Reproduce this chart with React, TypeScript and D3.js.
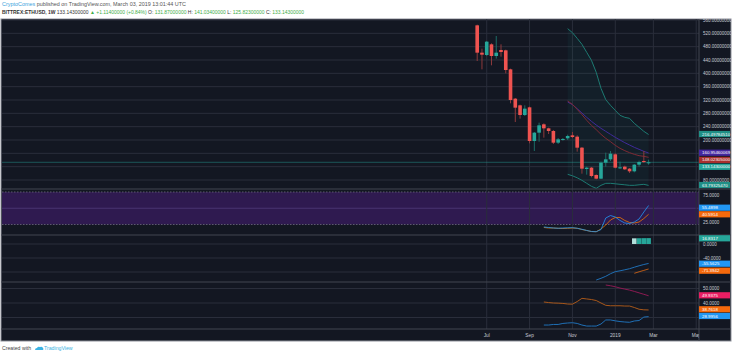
import React from 'react';
import * as d3 from 'd3';

// ---------- DATA ----------
const weekDates = [
  '2018-06-18','2018-06-25','2018-07-02','2018-07-09','2018-07-16','2018-07-23','2018-07-30',
  '2018-08-06','2018-08-13','2018-08-20','2018-08-27','2018-09-03','2018-09-10','2018-09-17',
  '2018-09-24','2018-10-01','2018-10-08','2018-10-15','2018-10-22','2018-10-29','2018-11-05',
  '2018-11-12','2018-11-19','2018-11-26','2018-12-03','2018-12-10','2018-12-17','2018-12-24',
  '2018-12-31','2019-01-07','2019-01-14','2019-01-21','2019-01-28','2019-02-04','2019-02-11',
  '2019-02-18','2019-02-25'
];
const openP = [544,462,455,487,452,470,469,412,324,304,275,298,197,222,247,235,227,192,201,205,214,210,177,113,117,95,84,132,142,157,117,120,114,106,126,137,131.87];
const highP = [546,474,497,490,512,487,471,414,326,306,304,300,224,252,250,237,230,206,206,216,224,214,179,120,119,97,135,162,167,160,135,123,116,128,138,167,141.034];
const lowP  = [437,412,452,424,444,450,400,310,254,264,272,190,167,195,207,218,188,188,198,200,206,165,99,96,88,82,83,120,137,115,113,110,101,103,120,131,125.823];
const closeP= [462,456,495,452,462,464,410,320,297,275,294,197,222,244,235,227,192,202,203,212,209,177,114,117,92,84,132,142,159,117,118,112,106,126,134,134,133.143];

const bandStart = 19;
const bbUpper = [534,522,505,487,463,439,403,355,321,304,289,274,268,265,250,238,226,216.5];
const bbLower = [97,92.6,86.6,79,70,61,55,64,70,70,68.6,67,65.6,64,64,65.6,67,63.8];
const maRed = [317,307,292,276,259,244,231,217,205,195,184,175,168,162,157,153,151,148];
const maPurple = [314,306,294,281,268,256,245,235,226,217,208,200,192,185,178,172,166,161];

const rsiStart = 14;
const rsiBlue = [21.2,20.4,19.6,19.2,19.6,19.9,20.1,19.2,17.6,15.8,14.2,13.9,17.3,35,38.8,36.5,31.2,27.3,26.5,28.8,33.5,44.2,54.2];
const rsiOrange = [20.4,19.6,19.6,19.2,18.8,19.2,19.6,19.2,17.3,15.8,14.2,13.9,18.1,24.2,31.9,35.8,35.8,31.2,28.1,27.3,28.8,34.2,40.7];

const macdStart = 25;
const macdLine = [-102.9,-98,-92.3,-84.9,-79,-76.6,-73.7,-70.6,-66.3,-62.3,-58.6,-55.56];
const signalStart = 33;
const signalLine = [-83.7,-79.4,-75.4,-71.39];
const histVals = [16.2,16.5,16.7,16.83];

const dmiStart = 14;
const dmiOrange = [40.7,40.3,40.0,39.9,39.7,39.3,39.2,41.0,43.2,42.8,42.4,41.7,40.0,38.4,38.1,38.1,38.1,37.9,37.9,36.9,35.7,35.3,35.2];
const dmiBlue = [24.8,24.8,25.2,25.2,25.9,26.2,26.4,25.9,24.8,24.1,24.1,24.1,25.5,28.3,28.3,27.7,27.2,26.9,26.7,27.6,27.9,30.3,30.6];
const adxStart = 27;
const adxPink = [52.4,51.9,51.2,50.3,49.6,48.9,48.0,47.0,46.0,45.0];

const priceTicks = [560,520,480,440,400,360,320,280,240,200,160,120,80];
const priceTickShown = [560,520,480,440,400,360,320,280,240,200,80];
const rsiTicks = [75,25];
const macdTicks = [0,-40,-80];
const macdTickShown = [0,-40];
const dmiTicks = [50,40,30];
const dmiTickShown = [50,40];
const timeTickDates = ['2018-07-02','2018-09-03','2018-11-05','2019-01-07','2019-03-04','2019-05-06'];
const timeTickLabels = ['Jul','Sep','Nov','2019','Mar','May'];

const mainBadges = [
  { text: '216.49784510', y: 134, fill: '#1f8f86' },
  { text: '160.95460069', y: 152.7, fill: '#4527a0' },
  { text: '148.02305000', y: 159.9, fill: '#a8302f' },
  { text: '133.14300000', y: 166.8, fill: '#26a69a' },
  { text: '63.79325470', y: 185, fill: '#1f8f86' },
];
const rsiBadges = [
  { text: '55.4898', y: 207.7, fill: '#2196f3' },
  { text: '40.5914', y: 214.3, fill: '#f5690c' },
];
const macdBadges = [
  { text: '16.8317', y: 238.3, fill: '#26a69a' },
  { text: '-55.5625', y: 263.7, fill: '#2196f3' },
  { text: '-71.3942', y: 270.7, fill: '#f5690c' },
];
const dmiBadges = [
  { text: '49.9375', y: 295.3, fill: '#e91e63' },
  { text: '38.7618', y: 309.3, fill: '#f5690c' },
  { text: '28.9956', y: 316, fill: '#2196f3' },
];

// ---------- LAYOUT ----------
const W = 736, H = 355;
const L = 2, R = 699, AXR = 731;
const main = { top: 19, bottom: 189 };
const rsiP = { top: 189, bottom: 235 };
const macdP = { top: 235, bottom: 282 };
const dmiP = { top: 282, bottom: 329 };
const timeAxisBottom = 341;

const BG = '#131722';
const GRID = '#2a2e3b';
const SEP = '#434651';
const AXTXT = '#c8cbd3';
const FONT = '"Liberation Sans", Arial, sans-serif';
const UP = '#26a69a', DOWN = '#ef5350';
const UPW = '#1c6d66', DOWNW = '#8e3a3c';

const parse = d3.utcParse('%Y-%m-%d');
const dates = weekDates.map(d => parse(d) as Date);
const x = d3.scaleUtc().domain([dates[0], dates[dates.length - 1]]).range([477.2, 648.6]);
const yMain = d3.scaleLinear().domain([80, 560]).range([180, 20]);
const yRsi = d3.scaleLinear().domain([25, 75]).range([224.5, 192]);
const yMacd = d3.scaleLinear().domain([-80, 0]).range([272, 244]);
const yDmi = d3.scaleLinear().domain([30, 50]).range([317.5, 288.5]);

function seriesPath(vals: number[], start: number, y: d3.ScaleLinear<number, number>) {
  return d3.line<number>().x((_, i) => x(dates[start + i])).y(d => y(d))(vals) || '';
}

function Badge({ text, y, fill }: { text: string; y: number; fill: string }) {
  return (
    <g>
      <rect x={R} y={y - 3.1} width={AXR - R - 1} height={6.2} fill={fill} />
      <text x={R + 3} y={y} dy="0.35em" fontSize={4.4} fill="#ffffff" fontFamily={FONT}>{text}</text>
    </g>
  );
}

function AxisLabel({ y, text }: { y: number; text: string }) {
  return <text x={R + 4} y={y} dy="0.35em" fontSize={4.5} fill={AXTXT} fontFamily={FONT}>{text}</text>;
}

export default function App() {
  const bandArea = d3.area<number>()
    .x((_, i) => x(dates[bandStart + i]))
    .y0((_, i) => yMain(bbLower[i]))
    .y1(d => yMain(d))(bbUpper) || '';
  const vTicks = timeTickDates.map(d => x(parse(d) as Date));
  const bw = 3.6;

  const panes = [main, rsiP, macdP, dmiP];

  return (
    <svg width={W} height={H} style={{ position: 'absolute', left: 0, top: 0, background: '#ffffff' }}>
      <defs>
        <clipPath id="cMain"><rect x={L} y={main.top} width={R - L} height={main.bottom - main.top} /></clipPath>
        <clipPath id="cRsi"><rect x={L} y={rsiP.top} width={R - L} height={rsiP.bottom - rsiP.top} /></clipPath>
        <clipPath id="cMacd"><rect x={L} y={macdP.top} width={R - L} height={macdP.bottom - macdP.top} /></clipPath>
        <clipPath id="cDmi"><rect x={L} y={dmiP.top} width={R - L} height={dmiP.bottom - dmiP.top} /></clipPath>
        <clipPath id="cTime"><rect x={L} y={dmiP.bottom} width={R - L} height={timeAxisBottom - dmiP.bottom} /></clipPath>
        <clipPath id="cAxisMain"><rect x={R} y={main.top} width={AXR - R} height={main.bottom - main.top} /></clipPath>
      </defs>

      {/* Header */}
      <text x={2} y={5.6} fontSize={5} fontFamily={FONT} fill="#555" textLength={184} lengthAdjust="spacingAndGlyphs">
        <tspan fill="#3a9fdc">CryptoComes</tspan>
        <tspan> published on TradingView.com, March 03, 2019 13:01:44 UTC</tspan>
      </text>
      <text x={2} y={13.8} fontSize={5} fontFamily={FONT} fill="#333" textLength={302} lengthAdjust="spacingAndGlyphs">
        <tspan fontWeight="bold">BITTREX:ETHUSD, 1W</tspan>
        <tspan> 133.14300000 </tspan>
        <tspan fill="#3fae49">▲ +1.11400000 (+0.84%)</tspan>
        <tspan> O: </tspan><tspan fill="#3fae49">131.87000000</tspan>
        <tspan> H: </tspan><tspan fill="#3fae49">141.03400000</tspan>
        <tspan> L: </tspan><tspan fill="#3fae49">125.82300000</tspan>
        <tspan> C: </tspan><tspan fill="#3fae49">133.14300000</tspan>
      </text>

      {/* Chart background */}
      <rect x={1} y={main.top} width={AXR - 1} height={timeAxisBottom - main.top} fill={BG} stroke="#8d9099" strokeWidth={1} />

      {/* Grid: horizontal */}
      {priceTicks.map(t => <line key={'pg' + t} x1={L} x2={R} y1={yMain(t)} y2={yMain(t)} stroke={GRID} strokeWidth={1} />)}
      {macdTicks.map(t => <line key={'mg' + t} x1={L} x2={R} y1={yMacd(t)} y2={yMacd(t)} stroke={GRID} strokeWidth={1} />)}
      {dmiTicks.map(t => <line key={'dg' + t} x1={L} x2={R} y1={yDmi(t)} y2={yDmi(t)} stroke={GRID} strokeWidth={1} />)}

      {/* RSI band */}
      <rect x={L} y={yRsi(75)} width={R - L} height={yRsi(25) - yRsi(75)} fill="#2f1a50" />
      <line x1={L} x2={R} y1={yRsi(50)} y2={yRsi(50)} stroke="#4a3470" strokeWidth={1} />
      {rsiTicks.map(t => <line key={'rg' + t} x1={L} x2={R} y1={yRsi(t)} y2={yRsi(t)} stroke="#5d5a6e" strokeWidth={1} strokeDasharray="1.5,1.5" />)}

      {/* Grid: vertical */}
      {panes.map((p, pi) => vTicks.map((vx, i) => (
        <line key={'vg' + pi + '-' + i} x1={vx} x2={vx} y1={p.top} y2={p.bottom} stroke={GRID} strokeWidth={1} />
      )))}

      {/* Main pane */}
      <g clipPath="url(#cMain)">
        <path d={bandArea} fill="#26a69a" fillOpacity={0.06} />
        <path d={seriesPath(bbUpper, bandStart, yMain)} fill="none" stroke="#1d7a72" strokeWidth={1} />
        <path d={seriesPath(bbLower, bandStart, yMain)} fill="none" stroke="#1d7a72" strokeWidth={1} />
        <path d={seriesPath(maPurple, bandStart, yMain)} fill="none" stroke="#3f2a9a" strokeWidth={1} />
        <path d={seriesPath(maRed, bandStart, yMain)} fill="none" stroke="#7e2a34" strokeWidth={1} />
        <line x1={L} x2={R} y1={yMain(closeP[closeP.length - 1])} y2={yMain(closeP[closeP.length - 1])} stroke="#26a69a" strokeOpacity={0.45} strokeWidth={1} />
        {dates.map((d, i) => {
          const cx = x(d);
          const up = closeP[i] >= openP[i];
          const top = yMain(Math.max(openP[i], closeP[i]));
          const bot = yMain(Math.min(openP[i], closeP[i]));
          return (
            <g key={'c' + i}>
              <line x1={cx} x2={cx} y1={yMain(highP[i])} y2={yMain(lowP[i])} stroke={up ? UPW : DOWNW} strokeWidth={1} />
              <rect x={cx - bw / 2} y={top} width={bw} height={Math.max(1, bot - top)} fill={up ? UP : DOWN} />
            </g>
          );
        })}
      </g>

      {/* RSI pane */}
      <g clipPath="url(#cRsi)">
        <path d={seriesPath(rsiOrange, rsiStart, yRsi)} fill="none" stroke="#f57c00" strokeOpacity={0.85} strokeWidth={0.9} />
        <path d={seriesPath(rsiBlue, rsiStart, yRsi)} fill="none" stroke="#2196f3" strokeOpacity={0.9} strokeWidth={0.9} />
      </g>

      {/* MACD pane */}
      <g clipPath="url(#cMacd)">
        {histVals.map((v, i) => {
          const cx = x(dates[signalStart + i]);
          return <rect key={'h' + i} x={cx - 2.3} y={yMacd(v)} width={4.6} height={yMacd(0) - yMacd(v)} fill={i === 0 ? '#b2dfdb' : '#26a69a'} />;
        })}
        <path d={seriesPath(macdLine, macdStart, yMacd)} fill="none" stroke="#1f6fb5" strokeWidth={1} />
        <path d={seriesPath(signalLine, signalStart, yMacd)} fill="none" stroke="#b85a17" strokeWidth={1} />
      </g>

      {/* DMI pane */}
      <g clipPath="url(#cDmi)">
        <path d={seriesPath(adxPink, adxStart, yDmi)} fill="none" stroke="#8c1a52" strokeWidth={1} />
        <path d={seriesPath(dmiOrange, dmiStart, yDmi)} fill="none" stroke="#a8571a" strokeWidth={1} />
        <path d={seriesPath(dmiBlue, dmiStart, yDmi)} fill="none" stroke="#1f6fb5" strokeWidth={1} />
      </g>

      {/* Pane separators */}
      {[rsiP.top, macdP.top, dmiP.top, dmiP.bottom].map((yy, i) => (
        <line key={'sep' + i} x1={L - 1} x2={AXR} y1={yy} y2={yy} stroke={SEP} strokeWidth={1} />
      ))}
      <line x1={R} x2={R} y1={main.top} y2={timeAxisBottom} stroke={SEP} strokeWidth={1} />

      {/* Time axis */}
      <g clipPath="url(#cTime)">
        {timeTickDates.map((d, i) => (
          <text key={'tt' + i} x={x(parse(d) as Date)} y={335.5} dy="0.35em" textAnchor="middle" fontSize={4.8} fill={AXTXT} fontFamily={FONT}>{timeTickLabels[i]}</text>
        ))}
      </g>

      {/* Price axis labels */}
      <g clipPath="url(#cAxisMain)">
        {priceTickShown.map(t => <AxisLabel key={'pl' + t} y={yMain(t)} text={t.toFixed(8)} />)}
      </g>
      <AxisLabel y={195.3} text="75.0000" />
      <AxisLabel y={222.3} text="25.0000" />
      {macdTickShown.map(t => <AxisLabel key={'ml' + t} y={yMacd(t) + 0.3} text={t.toFixed(4)} />)}
      {dmiTickShown.map(t => <AxisLabel key={'dl' + t} y={yDmi(t) + 0.4} text={t.toFixed(4)} />)}

      {/* Badges */}
      {mainBadges.map((b, i) => <Badge key={'mb' + i} {...b} />)}
      {rsiBadges.map((b, i) => <Badge key={'rb' + i} {...b} />)}
      {macdBadges.map((b, i) => <Badge key={'cb' + i} {...b} />)}
      {dmiBadges.map((b, i) => <Badge key={'db' + i} {...b} />)}

      {/* Footer */}
      <text x={2} y={350} fontSize={5.2} fontFamily={FONT} fill="#444">Created with</text>
      <g transform="translate(34,345)">
        <path d="M1,5 Q1,3 3,3 Q4,1 6,2 Q8,1 9,3 Q10,4 9,5 Z" fill="#3bb3e4" />
      </g>
      <text x={44} y={350} fontSize={5.2} fontFamily={FONT} fill="#3bb3e4">TradingView</text>
    </svg>
  );
}
